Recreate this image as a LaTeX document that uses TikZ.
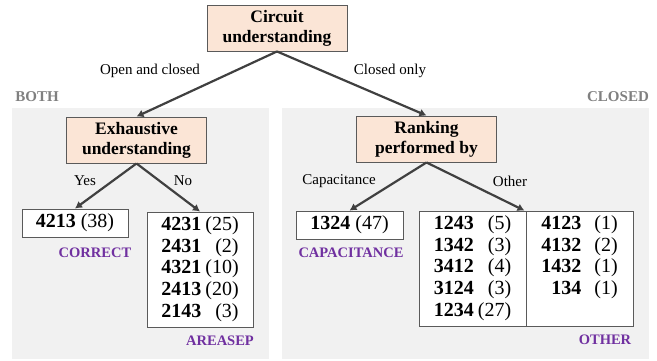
\documentclass[tikz,border=0pt]{standalone}
\usepackage{fontspec}
\setmainfont{Liberation Serif}
\usetikzlibrary{arrows.meta}
\definecolor{peach}{HTML}{FBE5D6}
\definecolor{panel}{HTML}{F1F1F1}
\definecolor{bordergray}{HTML}{5A5A5A}
\definecolor{arrowgray}{HTML}{404040}
\definecolor{labelgray}{HTML}{808080}
\definecolor{purp}{HTML}{7030A0}
\tikzset{
  titlebox/.style={draw=bordergray, line width=0.9pt, fill=peach, align=center,
    font=\fontsize{17.5}{20}\selectfont\bfseries, minimum width=140pt, minimum height=46pt, inner sep=0pt},
  resbox/.style={draw=bordergray, line width=0.9pt, fill=white, inner sep=0pt,
    font=\fontsize{20}{21.7}\selectfont},
  edgelbl/.style={font=\fontsize{15}{17}\selectfont, text=black},
  grouplbl/.style={font=\fontsize{15}{17}\selectfont\bfseries, text=labelgray},
  catlbl/.style={font=\fontsize{14.5}{17}\selectfont\bfseries, text=purp},
  conn/.style={draw=arrowgray, line width=2.2pt, -{Latex[length=7pt,width=8pt]}},
}
\begin{document}
\begin{tikzpicture}[x=1pt,y=-1pt]
\useasboundingbox (0,0) rectangle (657,360);
% panels
\fill[panel] (12,108) rectangle (269,359);
\fill[panel] (282,108) rectangle (649,359);
\node[grouplbl] (both) at (37,97) {BOTH};
\node[grouplbl] (closed) at (618,97) {CLOSED};
% title boxes
\node[titlebox] (circ) at (277,28) {Circuit\\understanding};
\node[titlebox] (exh) at (136.5,140) {Exhaustive\\understanding};
\node[titlebox] (rank) at (426.5,139) {Ranking\\performed by};
% result boxes
\node[resbox, minimum width=106pt, minimum height=28pt] (correct) at (75,223) {\textbf{4213} (38)};
\node[resbox, minimum width=106pt, minimum height=115pt] (areasep) at (200,269.5) {%
  \setlength{\tabcolsep}{0pt}%
  \begin{tabular}{l@{\hspace{4pt}}r}
  \textbf{4231} & (25)\\
  \textbf{2431} & (2)\\
  \textbf{4321} & (10)\\
  \textbf{2413} & (20)\\
  \textbf{2143} & (3)
  \end{tabular}};
\node[resbox, minimum width=107pt, minimum height=28pt] (cap) at (349.5,225) {\textbf{1324} (47)};
\node[resbox, minimum width=107pt, minimum height=115pt] (othL) at (472.5,268.5) {%
  \setlength{\tabcolsep}{0pt}%
  \begin{tabular}{l@{\hspace{4pt}}r}
  \textbf{1243} & (5)\\
  \textbf{1342} & (3)\\
  \textbf{3412} & (4)\\
  \textbf{3124} & (3)\\
  \textbf{1234} & (27)
  \end{tabular}};
\node[resbox, minimum width=107pt, minimum height=115pt] (othR) at (579.5,268.5) {%
  \setlength{\tabcolsep}{0pt}%
  \begin{tabular}{r@{\hspace{13pt}}r}
  \textbf{4123} & (1)\\
  \textbf{4132} & (2)\\
  \textbf{1432} & (1)\\
  \textbf{134} & (1)\\
  \phantom{0} &
  \end{tabular}};
% category labels
\node[catlbl] (lcorrect) at (95,253) {CORRECT};
\node[catlbl] (lareasep) at (220,341) {AREASEP};
\node[catlbl] (lcap) at (351,253) {CAPACITANCE};
\node[catlbl] (lother) at (605,340) {OTHER};
% connectors
\draw[conn] (circ.south) -- (exh.north);
\draw[conn] (circ.south) -- (rank.north);
\draw[conn] (exh.south) -- (correct.north);
\draw[conn] (exh.south) -- (areasep.north);
\draw[conn] (rank.south) -- (cap.north);
\coordinate (othtip) at ([xshift=-2pt]othL.north east);
\draw[conn] (rank.south) -- (othtip);
% edge labels
\node[edgelbl] (lo) at (150,71) {Open and closed};
\node[edgelbl] (lc) at (390,71) {Closed only};
\node[edgelbl] (ly) at (85,181) {Yes};
\node[edgelbl] (ln) at (183,181) {No};
\node[edgelbl] (lcp) at (339,181) {Capacitance};
\node[edgelbl] (lot) at (510,181) {Other};
\end{tikzpicture}
\end{document}
